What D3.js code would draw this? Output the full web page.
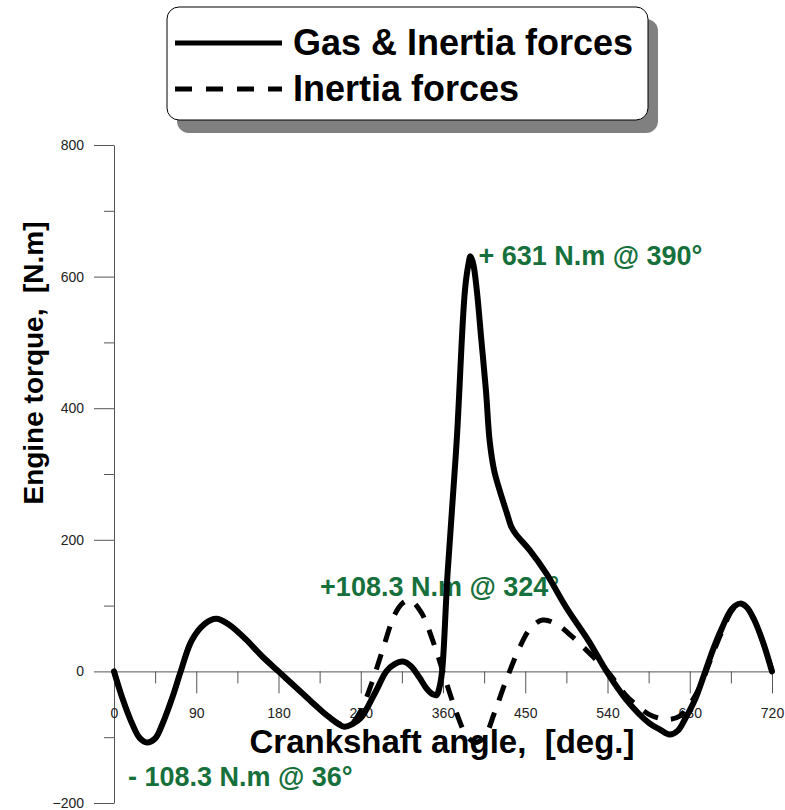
<!DOCTYPE html>
<html>
<head>
<meta charset="utf-8">
<script src="https://cdn.jsdelivr.net/npm/d3@7"></script>
<style>
  body { margin: 0; background: #fff; }
  svg { display: block; font-family: "Liberation Sans", Arial, sans-serif; }
</style>
</head>
<body>
<div id="chart"></div>
<script>
// Engine torque vs crankshaft angle

const gasAngle = [0, 9, 20, 28, 36, 45, 53, 64, 73, 85, 99, 112, 126, 144, 162, 180, 198, 216, 234, 252, 261, 270, 287, 298, 307, 316, 325, 334, 342, 349, 353, 356, 359, 365, 375, 384, 388, 390, 393, 397, 402, 407, 411, 416, 422, 430, 435, 440, 455, 473, 495, 520, 539, 560, 586, 597, 608, 617, 625, 636, 647, 656, 665, 676, 685, 692, 700, 710, 720];
const gasTorque = [0, -40, -80, -101, -108, -102, -80, -39, 0, 47, 72, 80, 71, 49, 23, 0, -23, -46, -68, -84, -80, -71, -29, 0, 11, 15, 8, -9, -26, -35, -36, -25, 0, 149, 351, 579, 620, 631, 620, 579, 503, 427, 351, 305, 275, 240, 219, 208, 184, 149, 97, 45, 0, -42, -79, -88, -96, -90, -72, -42, 0, 35, 65, 95, 103, 98, 80, 45, 0];

const inertiaAngle = [0, 9, 20, 28, 36, 45, 53, 64, 73, 85, 99, 112, 126, 144, 162, 180, 198, 216, 234, 252, 261, 270, 282, 294, 307, 316, 324, 336, 350, 363, 375, 386, 396, 406, 416, 429, 444, 456, 469, 484, 502, 528, 540, 560, 575, 588, 605, 619, 630, 641, 652, 665, 676, 684, 692, 700, 710, 720];
const inertiaTorque = [0, -40, -80, -101, -108, -102, -80, -39, 0, 47, 72, 80, 71, 49, 23, 0, -23, -46, -68, -82, -78, -60, -18, 33, 86, 104, 108, 90, 42, -14, -64, -98, -108, -98, -64, -14, 37, 66, 78, 72, 52, 17, 0, -36, -55, -67, -73, -68, -50, -24, 15, 60, 92, 103, 98, 80, 45, 0];

const xMajorTicks = [0, 90, 180, 270, 360, 450, 540, 630, 720];
const xMinorTicks = [45, 135, 225, 315, 405, 495, 585, 675];
const yMajorTicks = [-200, 0, 200, 400, 600, 800];
const yMinorTicks = [-100, 100, 300, 500, 700];

const seriesNames = ["Gas & Inertia forces", "Inertia forces"];
const annotations = [
    { angle: 390, torque: 631, text: "+ 631 N.m @ 390\u00b0" },
    { angle: 324, torque: 108.3, text: "+108.3 N.m @ 324\u00b0" },
    { angle: 36, torque: -108.3, text: "- 108.3 N.m @ 36\u00b0" }
];

const width = 785, height = 810;
const axisColor = "#555";
const green = "#16703c";

const svg = d3.select("#chart")
    .append("svg")
    .attr("width", width)
    .attr("height", height);

const x = d3.scaleLinear().domain([0, 720]).range([114, 772]);
const y = d3.scaleLinear().domain([-200, 800]).range([803, 145]);

// y axis (major + minor ticks)
svg.append("g")
    .attr("transform", `translate(${x(0)},0)`)
    .call(d3.axisLeft(y).tickValues(yMajorTicks).tickSize(20).tickSizeOuter(0).tickPadding(10));
svg.append("g")
    .attr("transform", `translate(${x(0)},0)`)
    .call(d3.axisLeft(y).tickValues(yMinorTicks).tickSize(10).tickFormat(""))
    .select(".domain").remove();

// x axis sits on torque = 0
svg.append("g")
    .attr("transform", `translate(0,${y(0)})`)
    .call(d3.axisBottom(x).tickValues(xMajorTicks).tickSize(22).tickSizeOuter(0).tickPadding(15));
svg.append("g")
    .attr("transform", `translate(0,${y(0)})`)
    .call(d3.axisBottom(x).tickValues(xMinorTicks).tickSize(12).tickFormat(""))
    .select(".domain").remove();

svg.selectAll(".domain, .tick line").attr("stroke", axisColor).attr("stroke-width", 1);
svg.selectAll(".tick text")
    .attr("fill", "#222")
    .style("font-size", "14px")
    .style("font-family", "'Liberation Sans', Arial, sans-serif");

// axis titles
svg.append("text")
    .attr("x", 442)
    .attr("y", 753)
    .attr("text-anchor", "middle")
    .style("white-space", "pre")
    .style("font-size", "33px")
    .style("font-weight", "bold")
    .text("Crankshaft angle,  [deg.]");

svg.append("text")
    .attr("transform", "translate(43,363) rotate(-90)")
    .attr("text-anchor", "middle")
    .style("white-space", "pre")
    .style("font-size", "28px")
    .style("font-weight", "bold")
    .text("Engine torque,  [N.m]");

// peak annotations, offset from the point they describe
const annOffset = [[8, 9], [-90, -4], [-19, 43]];
svg.selectAll("text.ann")
    .data(annotations)
    .enter()
    .append("text")
    .attr("class", "ann")
    .attr("x", (d, i) => x(d.angle) + annOffset[i][0])
    .attr("y", (d, i) => y(d.torque) + annOffset[i][1])
    .attr("fill", green)
    .style("font-size", "27px")
    .style("font-weight", "bold")
    .text(d => d.text);

// curves
const line = d3.line()
    .x(d => x(d[0]))
    .y(d => y(d[1]))
    .curve(d3.curveCatmullRom.alpha(0.5));

const inertiaData = inertiaAngle.map((a, i) => [a, inertiaTorque[i]]);
const gasData = gasAngle.map((a, i) => [a, gasTorque[i]]);

svg.append("path")
    .datum(inertiaData)
    .attr("fill", "none")
    .attr("stroke", "#000")
    .attr("stroke-width", 5)
    .attr("stroke-dasharray", "16,13")
    .attr("d", line);

svg.append("path")
    .datum(gasData)
    .attr("fill", "none")
    .attr("stroke", "#000")
    .attr("stroke-width", 6)
    .attr("stroke-linejoin", "round")
    .attr("stroke-linecap", "round")
    .attr("d", line);

// legend box with drop shadow
const legend = svg.append("g");
legend.append("rect")
    .attr("x", 177).attr("y", 19)
    .attr("width", 481).attr("height", 114)
    .attr("rx", 12)
    .attr("fill", "#808080");
legend.append("rect")
    .attr("x", 167).attr("y", 7)
    .attr("width", 481).attr("height", 113)
    .attr("rx", 12)
    .attr("fill", "#fff")
    .attr("stroke", "#000")
    .attr("stroke-width", 1);

const entries = legend.selectAll("g.entry")
    .data(seriesNames)
    .enter()
    .append("g")
    .attr("class", "entry")
    .attr("transform", (d, i) => `translate(0,${43 + i * 46})`);

entries.append("line")
    .attr("x1", 175).attr("x2", 282)
    .attr("y1", 0).attr("y2", 0)
    .attr("stroke", "#000")
    .attr("stroke-width", 5)
    .attr("stroke-dasharray", (d, i) => i === 0 ? null : "17,14");

entries.append("text")
    .attr("x", 293)
    .attr("y", 12)
    .style("font-size", "36px")
    .style("font-weight", "bold")
    .text(d => d);
</script>
</body>
</html>
